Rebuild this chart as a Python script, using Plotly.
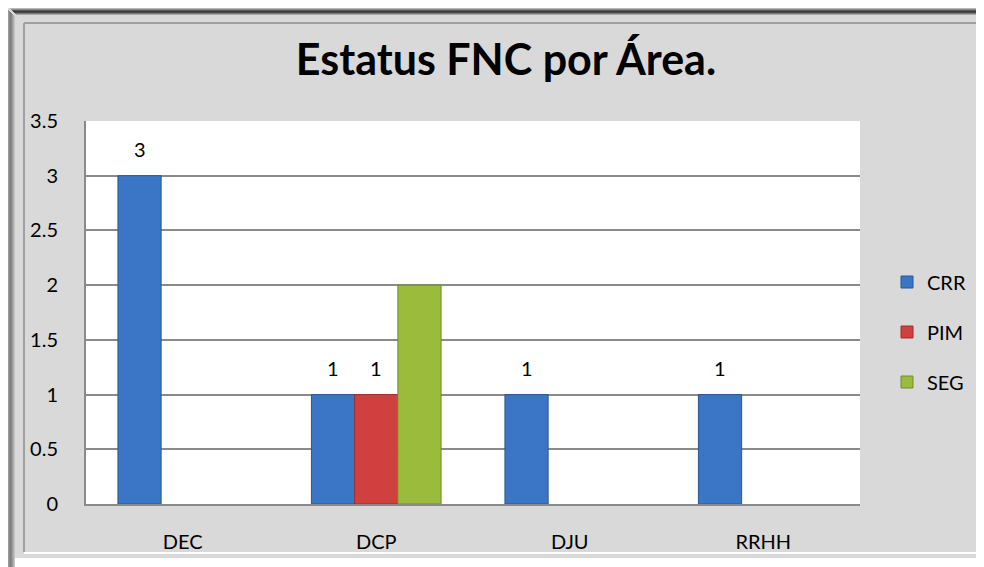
import plotly.graph_objects as go

categories = ["DEC", "DCP", "DJU", "RRHH"]
series_names = ["CRR", "PIM", "SEG"]
crr = [3, 1, 1, 1]
pim = [None, 1, None, None]
seg = [None, 2, None, None]
crr_labels = ["3", "1", "1", "1"]
pim_labels = ["", "1", "", ""]
seg_labels = ["", "", "", ""]
y_ticks = [0, 0.5, 1, 1.5, 2, 2.5, 3, 3.5]
y_ticktext = ["0", "0.5", "1", "1.5", "2", "2.5", "3", "3.5"]
title_text = "Estatus FNC por Área."

# the page body adds an 8px margin, so the figure is 8px smaller
W, H = 976, 559
L, R, T, B = 78, 124, 113, 63
FONT = "Lato"
FS = 20
BARGAP = 0.33

fills = ["#3b76c6", "#d0403e", "#9bbb3c"]
edges = ["#2b5795", "#9e2e2d", "#718d2a"]
values = [crr, pim, seg]
labels = [crr_labels, pim_labels, seg_labels]

fig = go.Figure()
for k, (name, vals) in enumerate(zip(series_names, values)):
    fig.add_trace(go.Bar(
        name=name, x=list(range(len(categories))), y=vals,
        marker=dict(color=fills[k], line=dict(color=edges[k], width=1)),
        legendgroup=name,
    ))

# data labels
bw = (1 - BARGAP) / len(series_names)
annotations = []
for k, (vals, labs) in enumerate(zip(values, labels)):
    for i, (v, t) in enumerate(zip(vals, labs)):
        if v is None or not t:
            continue
        annotations.append(dict(
            x=i + (k - (len(series_names) - 1) / 2) * bw, y=v, xref="x", yref="y",
            text=t, showarrow=False, yshift=27, yanchor="middle",
            font=dict(family=FONT, size=FS, color="#000000"),
        ))

def px_to_u(px):
    return (px - L) / (W - L - R)

def py_to_v(py):
    return 1 - (py - T) / (H - T - B)

shapes = []
# white strip at the bottom
shapes.append(dict(type="rect", xref="paper", yref="paper", layer="below",
                   x0=px_to_u(0), x1=px_to_u(W), y0=py_to_v(H), y1=py_to_v(550),
                   fillcolor="#ffffff", line=dict(width=0)))
# dark top band (gradient approximation)
top_cols = ["#b8b8b8", "#8a8a8a", "#5a5a5a", "#3a3a3a", "#4a4a4a", "#7a7a7a", "#a8a8a8"]
for j, c in enumerate(top_cols):
    shapes.append(dict(type="line", xref="paper", yref="paper", layer="below",
                       x0=px_to_u(2 + j), x1=px_to_u(W), y0=py_to_v(j + 0.5), y1=py_to_v(j + 0.5),
                       line=dict(color=c, width=1)))
# dark left band
left_cols = ["#9a9a9a", "#8a8a8a", "#7d7d7d", "#8a8a8a", "#9c9c9c", "#b0b0b0", "#c4c4c4"]
for j, c in enumerate(left_cols):
    shapes.append(dict(type="line", xref="paper", yref="paper", layer="below",
                       x0=px_to_u(j + 0.5), x1=px_to_u(j + 0.5), y0=py_to_v(H), y1=py_to_v(2 + j),
                       line=dict(color=c, width=1)))
# inner frame
shapes.append(dict(type="line", xref="paper", yref="paper", layer="below",
                   x0=px_to_u(16), x1=px_to_u(968), y0=py_to_v(15), y1=py_to_v(15),
                   line=dict(color="#a0a0a0", width=2)))
shapes.append(dict(type="line", xref="paper", yref="paper", layer="below",
                   x0=px_to_u(16), x1=px_to_u(16), y0=py_to_v(544), y1=py_to_v(15),
                   line=dict(color="#a0a0a0", width=2)))
shapes.append(dict(type="line", xref="paper", yref="paper", layer="below",
                   x0=px_to_u(16), x1=px_to_u(970), y0=py_to_v(545), y1=py_to_v(545),
                   line=dict(color="#ffffff", width=2)))
shapes.append(dict(type="line", xref="paper", yref="paper", layer="below",
                   x0=px_to_u(969), x1=px_to_u(969), y0=py_to_v(545), y1=py_to_v(16),
                   line=dict(color="#ffffff", width=2)))

fig.update_layout(
    width=W, height=H,
    margin=dict(l=L, r=R, t=T, b=B, pad=0),
    paper_bgcolor="#d9d9d9", plot_bgcolor="#ffffff",
    barmode="group", bargap=BARGAP, bargroupgap=0,
    font=dict(family=FONT, size=FS, color="#000000"),
    title=dict(text="<b>" + title_text + "</b>", x=498 / W, xref="container", xanchor="center",
               y=1 - 52 / H, yref="container", yanchor="middle",
               font=dict(family=FONT, size=43, color="#000000")),
    xaxis=dict(tickmode="array", tickvals=list(range(len(categories))), ticktext=categories,
               range=[-0.5, len(categories) - 0.5], showgrid=False, showline=True,
               linecolor="#8a8a8a", linewidth=2, ticks="", ticklabelstandoff=19,
               tickfont=dict(family=FONT, size=FS), zeroline=False, fixedrange=True),
    yaxis=dict(range=[0, 3.5], tickmode="array", tickvals=y_ticks, ticktext=y_ticktext,
               showgrid=True, gridcolor="#8a8a8a", gridwidth=2, showline=True,
               linecolor="#8a8a8a", linewidth=2, ticks="", ticklabelstandoff=22,
               tickfont=dict(family=FONT, size=FS), zeroline=False, fixedrange=True),
    legend=dict(x=px_to_u(879), xanchor="left", y=py_to_v(324), yanchor="middle",
                bgcolor="rgba(0,0,0,0)", tracegroupgap=21, itemwidth=30,
                font=dict(family=FONT, size=FS)),
    shapes=shapes,
    annotations=annotations,
    showlegend=True,
)

fig.write_html("out.html")
